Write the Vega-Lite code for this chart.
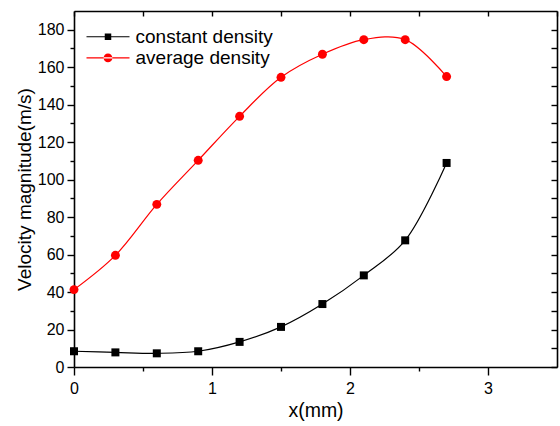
{
  "$schema": "https://vega.github.io/schema/vega-lite/v6.json",
  "width": 483,
  "height": 356,
  "autosize": {"type": "none"},
  "padding": {"left": 74, "top": 11, "right": 3, "bottom": 59},
  "background": "white",
  "data": {
    "values": [
      {"x": 0, "v": 8.4, "series": "constant density"},
      {"x": 0.3, "v": 7.8, "series": "constant density"},
      {"x": 0.6, "v": 7.3, "series": "constant density"},
      {"x": 0.9, "v": 8.4, "series": "constant density"},
      {"x": 1.2, "v": 13.4, "series": "constant density"},
      {"x": 1.5, "v": 21.4, "series": "constant density"},
      {"x": 1.8, "v": 33.6, "series": "constant density"},
      {"x": 2.1, "v": 48.9, "series": "constant density"},
      {"x": 2.4, "v": 67.6, "series": "constant density"},
      {"x": 2.7, "v": 108.9, "series": "constant density"},
      {"x": 0, "v": 41.3, "series": "average density"},
      {"x": 0.3, "v": 59.6, "series": "average density"},
      {"x": 0.6, "v": 86.8, "series": "average density"},
      {"x": 0.9, "v": 110.3, "series": "average density"},
      {"x": 1.2, "v": 133.8, "series": "average density"},
      {"x": 1.5, "v": 154.6, "series": "average density"},
      {"x": 1.8, "v": 166.9, "series": "average density"},
      {"x": 2.1, "v": 174.7, "series": "average density"},
      {"x": 2.4, "v": 174.7, "series": "average density"},
      {"x": 2.7, "v": 155.0, "series": "average density"}
    ]
  },
  "layer": [
    {
      "mark": {"type": "line", "interpolate": "catmull-rom", "strokeWidth": 1.2},
      "encoding": {
        "x": {
          "field": "x", "type": "quantitative",
          "scale": {"domain": [0, 3.5], "nice": false, "zero": false},
          "axis": {
            "orient": "bottom",
            "title": "x(mm)",
            "values": [0, 0.5, 1, 1.5, 2, 2.5, 3],
            "labelExpr": "datum.value % 1 === 0 ? format(datum.value, 'd') : ''",
            "tickSize": {"condition": {"test": "datum.value % 1 !== 0", "value": 4}, "value": 8},
            "labelPadding": 5,
            "titlePadding": 5,
            "titleFontSize": 19.5,
            "labelFlush": false,
            "labelOverlap": false
          }
        },
        "y": {
          "field": "v", "type": "quantitative",
          "scale": {"domain": [0, 190], "nice": false, "zero": false},
          "axis": {
            "orient": "left",
            "title": "Velocity magnitude(m/s)",
            "values": [0, 10, 20, 30, 40, 50, 60, 70, 80, 90, 100, 110, 120, 130, 140, 150, 160, 170, 180],
            "labelExpr": "datum.value % 20 === 0 ? format(datum.value, 'd') : ''",
            "tickSize": {"condition": {"test": "datum.value % 20 !== 0", "value": 4}, "value": 7},
            "labelPadding": 3,
            "titlePadding": 3,
            "labelFlush": false,
            "labelOverlap": false
          }
        },
        "color": {
          "field": "series", "type": "nominal",
          "scale": {"domain": ["constant density", "average density"], "range": ["black", "red"]},
          "legend": {
            "orient": "none",
            "legendX": 24.5,
            "legendY": 16.2,
            "title": null,
            "padding": 0,
            "symbolSize": 100,
            "symbolStrokeWidth": 0,
            "symbolOffset": 0,
            "labelOffset": 18,
            "rowPadding": 1.2,
            "labelFont": "Liberation Sans",
            "labelFontSize": 19,
            "labelColor": "black",
            "labelLimit": 400,
            "encode": {
              "symbols": {
                "update": {
                  "shape": [
                    {"test": "datum.value === 'constant density'", "value": "M -4.3 -0.11 L 4.3 -0.11 L 4.3 0.11 L -4.3 0.11 Z M -0.65 -0.65 L 0.65 -0.65 L 0.65 0.65 L -0.65 0.65 Z"},
                    {"value": "M -4.3 -0.11 L 4.3 -0.11 L 4.3 0.11 L -4.3 0.11 Z M -0.88 0 A 0.88 0.88 0 1 0 0.88 0 A 0.88 0.88 0 1 0 -0.88 0 Z"}
                  ],
                  "fill": [
                    {"test": "datum.value === 'constant density'", "value": "black"},
                    {"value": "red"}
                  ],
                  "strokeWidth": {"value": 0},
                  "opacity": {"value": 1}
                }
              }
            }
          }
        }
      }
    },
    {
      "transform": [{"filter": "datum.series === 'constant density'"}],
      "mark": {"type": "point", "shape": "square", "filled": true, "color": "black", "size": 64, "opacity": 1, "strokeWidth": 0},
      "encoding": {
        "x": {
          "field": "x", "type": "quantitative",
          "scale": {"domain": [0, 3.5], "nice": false, "zero": false},
          "axis": {
            "orient": "top",
            "title": null,
            "values": [0, 0.5, 1, 1.5, 2, 2.5, 3, 3.5],
            "labels": false,
            "tickSize": -5
          }
        },
        "y": {
          "field": "v", "type": "quantitative",
          "scale": {"domain": [0, 190], "nice": false, "zero": false},
          "axis": {
            "orient": "right",
            "title": null,
            "values": [0, 10, 20, 30, 40, 50, 60, 70, 80, 90, 100, 110, 120, 130, 140, 150, 160, 170, 180],
            "labels": false,
            "tickSize": -6
          }
        }
      }
    },
    {
      "transform": [{"filter": "datum.series === 'average density'"}],
      "mark": {"type": "point", "shape": "circle", "filled": true, "color": "red", "size": 80, "opacity": 1, "strokeWidth": 0},
      "encoding": {
        "x": {
          "field": "x", "type": "quantitative",
          "scale": {"domain": [0, 3.5], "nice": false, "zero": false},
          "axis": null
        },
        "y": {
          "field": "v", "type": "quantitative",
          "scale": {"domain": [0, 190], "nice": false, "zero": false},
          "axis": null
        }
      }
    }
  ],
  "resolve": {"axis": {"x": "independent", "y": "independent"}},
  "config": {
    "view": {"stroke": null},
    "axis": {
      "domainColor": "black",
      "domainWidth": 1.6,
      "tickColor": "black",
      "tickWidth": 1.4,
      "labelColor": "black",
      "titleColor": "black",
      "labelFont": "Liberation Sans",
      "titleFont": "Liberation Sans",
      "labelFontSize": 16,
      "titleFontSize": 19,
      "titleFontWeight": "normal",
      "grid": false
    }
  }
}
